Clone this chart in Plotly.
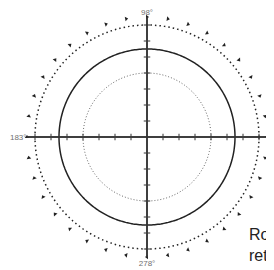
import plotly.graph_objects as go
import numpy as np

# ---- data ----
angle_tickvals = [0, 90, 180, 270]
angle_ticktext = ["0°", "98°", "183°", "278°"]
radial_ticks = [1, 2, 3, 4, 5, 6, 7]
radial_max = 7.5
inner_dotted_r = 4
solid_r = 5.5
outer_dotted_r = 7
arrow_r = 7.5
arrow_theta = [0, 10, 20, 30, 40, 50, 60, 70, 80, 90, 100, 110, 120, 130, 140, 150, 160, 170,
               180, 190, 200, 210, 220, 230, 240, 250, 260, 270, 280, 290, 300, 310, 320, 330, 340, 350]
note_text = "Rotation<br>retrograde"

OFF = 8  # page body margin
W, H = 274 - OFF, 270 - OFF
cx, cy, R = 147 - OFF, 137 - OFF, 120
dom_x = [(cx - R) / W, (cx + R) / W]
dom_y = [(H - cy - R) / H, (H - cy + R) / H]

circle_theta = np.linspace(0, 360, 361)

fig = go.Figure()

fig.add_trace(go.Scatterpolar(
    r=[inner_dotted_r] * len(circle_theta), theta=circle_theta, mode="lines",
    line=dict(color="#666666", width=1, dash="1px,2px"), hoverinfo="skip", showlegend=False))
fig.add_trace(go.Scatterpolar(
    r=[solid_r] * len(circle_theta), theta=circle_theta, mode="lines",
    line=dict(color="#222222", width=1.5), hoverinfo="skip", showlegend=False))
fig.add_trace(go.Scatterpolar(
    r=[outer_dotted_r] * len(circle_theta), theta=circle_theta, mode="lines",
    line=dict(color="#222222", width=1.5, dash="1.5px,3px"), hoverinfo="skip", showlegend=False))
fig.add_trace(go.Scatterpolar(
    r=[arrow_r] * len(arrow_theta), theta=arrow_theta, mode="markers", cliponaxis=False,
    marker=dict(symbol="triangle-up", size=4, color="#222222",
                angle=[180 - t for t in arrow_theta]),
    hoverinfo="skip", showlegend=False))

layout = dict(
    width=W, height=H, margin=dict(l=0, r=0, t=0, b=0),
    paper_bgcolor="white", plot_bgcolor="white", showlegend=False,
    font=dict(family="Liberation Sans, Arial, sans-serif"),
)

arms = [(0, "counterclockwise"), (0, "clockwise"), (90, "counterclockwise"), (90, "clockwise"),
        (180, "counterclockwise"), (180, "clockwise"), (270, "counterclockwise"), (270, "clockwise")]
for i, (ang, side) in enumerate(arms):
    key = "polar" if i == 0 else f"polar{i+1}"
    if i > 0:
        fig.add_trace(go.Scatterpolar(r=[None], theta=[None], mode="markers", subplot=key,
                                      hoverinfo="skip", showlegend=False))
    p = dict(
        domain=dict(x=dom_x, y=dom_y),
        bgcolor="rgba(0,0,0,0)",
        radialaxis=dict(range=[0, radial_max], angle=ang, side=side, tickvals=radial_ticks,
                        ticks="outside", ticklen=2.5, tickwidth=1, tickcolor="#333333",
                        showticklabels=False, showgrid=False, showline=True,
                        linecolor="#333333", linewidth=1.5),
    )
    if i == 0:
        p["angularaxis"] = dict(tickvals=angle_tickvals, ticktext=angle_ticktext,
                                rotation=0, direction="counterclockwise",
                                showline=False, showgrid=False, ticks="",
                                tickfont=dict(size=8, color="#707070"))
    else:
        p["angularaxis"] = dict(visible=False)
    layout[key] = p

fig.update_layout(**layout)

fig.add_annotation(text=note_text, xref="paper", yref="paper",
                   x=(247 - OFF) / W, y=(H - 224 + OFF) / H, xanchor="left", yanchor="top",
                   align="left", showarrow=False,
                   font=dict(size=16, color="#222222", family="Liberation Sans, Arial, sans-serif"))

fig.write_html("out.html")
